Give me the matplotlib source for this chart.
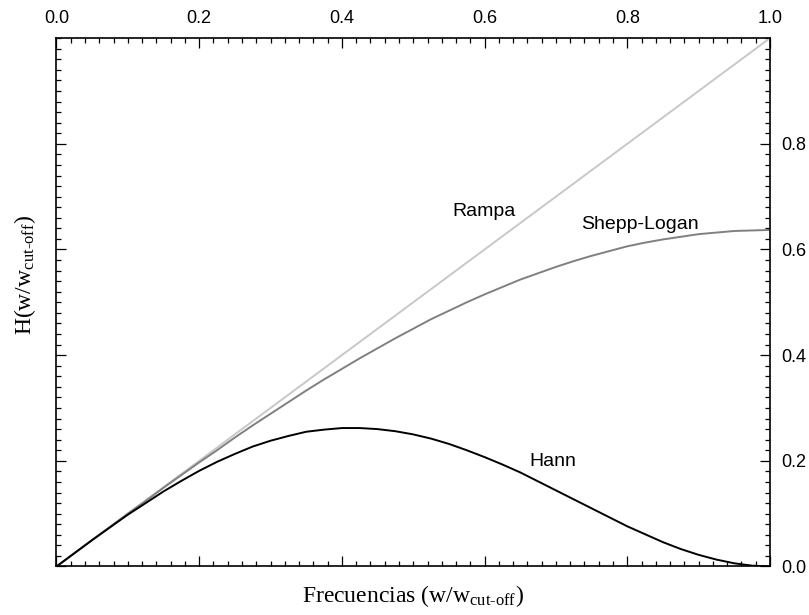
import matplotlib
matplotlib.use('Agg')
import matplotlib.pyplot as plt
from matplotlib.ticker import MultipleLocator, FixedLocator

'''Data read from the chart'''

freq = [0.0, 0.025, 0.05, 0.075, 0.1, 0.125, 0.15, 0.175, 0.2, 0.225, 0.25,
        0.275, 0.3, 0.325, 0.35, 0.375, 0.4, 0.425, 0.45, 0.475, 0.5,
        0.525, 0.55, 0.575, 0.6, 0.625, 0.65, 0.675, 0.7, 0.725, 0.75,
        0.775, 0.8, 0.825, 0.85, 0.875, 0.9, 0.925, 0.95, 0.975, 1.0]
shepp_logan = [0.0, 0.025, 0.050, 0.075, 0.100, 0.124, 0.149, 0.173, 0.197, 0.220, 0.244,
               0.267, 0.289, 0.311, 0.333, 0.354, 0.374, 0.394, 0.413, 0.432, 0.450,
               0.468, 0.484, 0.500, 0.515, 0.529, 0.543, 0.555, 0.567, 0.578, 0.588,
               0.597, 0.606, 0.613, 0.619, 0.624, 0.629, 0.632, 0.635, 0.636, 0.637]
hann = [0.0, 0.025, 0.050, 0.074, 0.098, 0.120, 0.142, 0.162, 0.181, 0.198, 0.213,
        0.227, 0.238, 0.247, 0.255, 0.259, 0.262, 0.262, 0.260, 0.256, 0.250,
        0.242, 0.232, 0.220, 0.207, 0.193, 0.178, 0.161, 0.144, 0.127, 0.110,
        0.093, 0.076, 0.061, 0.046, 0.033, 0.022, 0.013, 0.006, 0.0015, 0.0]
rampa_x = [0.0, 1.0]
rampa_y = [0.0, 1.0]

top_ticks = [0.0, 0.2, 0.4, 0.6, 0.8, 1.0]
right_ticks = [0.0, 0.2, 0.4, 0.6, 0.8]

plt.rcParams['mathtext.fontset'] = 'custom'
plt.rcParams['mathtext.rm'] = 'Liberation Serif'
plt.rcParams['mathtext.it'] = 'Liberation Serif:italic'

fig = plt.figure(figsize=(8.09, 6.15), dpi=100)
ax = fig.add_axes([0.0698, 0.0789, 0.8820, 0.8591])

ax.plot(rampa_x, rampa_y, color='#c8c8c8', lw=1.4)
ax.plot(freq, shepp_logan, color='#808080', lw=1.4)
ax.plot(freq, hann, color='black', lw=1.4)

ax.set_xlim(0, 1)
ax.set_ylim(0, 1)

    # annotations next to each curve
ax.text(0.599, 0.672, 'Rampa', fontsize=14, family='Liberation Sans', ha='center', va='center')
ax.text(0.818, 0.648, 'Shepp-Logan', fontsize=14, family='Liberation Sans', ha='center', va='center')
ax.text(0.695, 0.199, 'Hann', fontsize=14, family='Liberation Sans', ha='center', va='center')

    # ticks: labels on top and right, ticks inward everywhere
ax.xaxis.set_major_locator(FixedLocator(top_ticks))
ax.xaxis.set_minor_locator(MultipleLocator(0.02))
ax.yaxis.set_major_locator(FixedLocator(right_ticks))
ax.yaxis.set_minor_locator(MultipleLocator(0.02))
ax.tick_params(which='both', direction='in', top=True, bottom=True, left=True, right=True,
               labeltop=True, labelbottom=False, labelleft=False, labelright=True, width=0.9)
ax.tick_params(which='major', length=7.2, pad=8)
ax.tick_params(which='minor', length=3.6)
ax.set_xticklabels(['%.1f' % t for t in top_ticks], family='Liberation Sans', fontsize=13)
ax.set_yticklabels(['%.1f' % t for t in right_ticks], family='Liberation Sans', fontsize=13)

for s in ax.spines.values():
    s.set_linewidth(1.2)

    # axis titles placed in figure coordinates
fig.text(0.511, 0.031, r'Frecuencias (w/w$_{\text{cut-off}}$)', family='Liberation Serif',
         fontsize=17, ha='center', va='center')
fig.text(0.031, 0.553, r'H(w/w$_{\text{cut-off}}$)', family='Liberation Serif',
         fontsize=17, ha='center', va='center', rotation=90)

fig.savefig('out.png', dpi=100)
